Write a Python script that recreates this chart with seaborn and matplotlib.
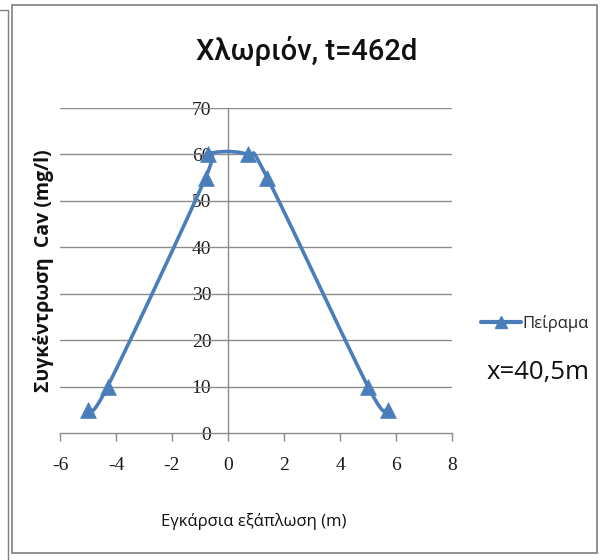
import numpy as np
import pandas as pd
import matplotlib
matplotlib.use("Agg")
import matplotlib.pyplot as plt
from matplotlib.lines import Line2D
from matplotlib.patches import Rectangle
import seaborn as sns

# Transverse position (m) and measured average chloride concentration (mg/l)
distance = [-5.0, -4.3, -0.8, -0.7, 0.7, 1.4, 5.0, 5.7]
concentration = [5, 10, 55, 60, 60, 55, 10, 5]
series_name = "Πείραμα"
x_ticks = [-6, -4, -2, 0, 2, 4, 6, 8]
y_ticks = [0, 10, 20, 30, 40, 50, 60, 70]

title = "Χλωριόν, t=462d"
x_label = "Εγκάρσια εξάπλωση (m)"
y_label = "Συγκέντρωση  Cav (mg/l)"
note = "x=40,5m"

df = pd.DataFrame({"x": distance, "c": concentration})

sns.set_theme(style="white")
plt.rcParams["font.family"] = ["Open Sans", "DejaVu Sans"]

BLUE = "#4a7ebb"
GRID = "#8c8c8c"

fig = plt.figure(figsize=(6.03, 5.60), dpi=100)
ax = fig.add_axes([60 / 603, 1 - 433 / 560, 392 / 603, 325 / 560])
ax.set_xlim(-6, 8)
ax.set_ylim(0, 70)


def smooth_curve(ax, xs, ys, n=40):
    """Bezier smoothing (Catmull-Rom style) computed in display space."""
    pts = ax.transData.transform(np.column_stack([xs, ys]))
    out = []
    m = len(pts)
    t = np.linspace(0, 1, n)[:, None]
    for i in range(m - 1):
        p0 = pts[max(i - 1, 0)]
        p1 = pts[i]
        p2 = pts[i + 1]
        p3 = pts[min(i + 2, m - 1)]
        c1 = p1 + (p2 - p0) / 6
        c2 = p2 - (p3 - p1) / 6
        seg = ((1 - t) ** 3) * p1 + 3 * ((1 - t) ** 2) * t * c1 \
            + 3 * (1 - t) * t ** 2 * c2 + t ** 3 * p2
        out.append(seg if i == 0 else seg[1:])
    curve = np.vstack(out)
    data = ax.transData.inverted().transform(curve)
    return data[:, 0], data[:, 1]


# gridlines
for yv in y_ticks[1:]:
    ax.axhline(yv, color=GRID, lw=1.0, zorder=1)

sx, sy = smooth_curve(ax, df["x"].to_numpy(), df["c"].to_numpy())
ax.plot(sx, sy, color=BLUE, lw=2.6, zorder=3, solid_capstyle="round")
sns.scatterplot(data=df, x="x", y="c", marker="^", s=130, color=BLUE,
                edgecolor=BLUE, linewidth=0.5, zorder=4, ax=ax, legend=False)

# axes lines crossing at the origin
for side in ["top", "right"]:
    ax.spines[side].set_visible(False)
ax.spines["left"].set_position(("data", 0))
ax.spines["left"].set_color(GRID)
ax.spines["bottom"].set_color(GRID)
ax.spines["left"].set_linewidth(1.0)
ax.spines["bottom"].set_linewidth(1.0)

ax.set_xticks(x_ticks)
ax.set_yticks(y_ticks)
ax.set_xticklabels([str(v) for v in x_ticks])
ax.set_yticklabels([str(v) for v in y_ticks])
for lab in ax.get_xticklabels() + ax.get_yticklabels():
    lab.set_fontfamily(["Liberation Serif", "DejaVu Serif"])
    lab.set_fontsize(14)
    lab.set_color("#1a1a1a")
ax.tick_params(axis="x", direction="out", length=6, width=1, color=GRID, pad=11, bottom=True)
ax.tick_params(axis="y", length=0, pad=12, left=True)
ax.set_xlabel("")
ax.set_ylabel("")
ax.patch.set_alpha(0)

fig.text(307 / 603, 1 - 51 / 560, title, ha="center", va="center",
         fontsize=21, fontweight="medium", color="#111111", family=["Roboto", "DejaVu Sans"])
fig.text(254 / 603, 1 - 521 / 560, x_label, ha="center", va="center",
         fontsize=12, color="#111111", family=["Open Sans", "DejaVu Sans"])
fig.text(44 / 603, 1 - 271 / 560, y_label, ha="center", va="center", rotation=90,
         fontsize=14, fontweight="bold", color="#111111", family=["Open Sans", "DejaVu Sans"])
fig.text(487 / 603, 1 - 373 / 560, note, ha="left", va="center",
         fontsize=18.5, color="#111111", family=["Open Sans", "DejaVu Sans"])

handle = Line2D([], [], color=BLUE, lw=3, marker="^", markersize=9,
                markerfacecolor=BLUE, markeredgecolor=BLUE)
fig.legend([handle], [series_name], loc="center left",
           bbox_to_anchor=(481 / 603, 1 - 323 / 560), frameon=False,
           handlelength=2.4, handletextpad=0.1, borderpad=0, borderaxespad=0,
           prop={"family": ["Open Sans", "DejaVu Sans"], "size": 12})

# chart frame
fig.patches.append(Rectangle((12 / 603, 1 - 553 / 560), 585 / 603, 548 / 560,
                             transform=fig.transFigure, fill=False,
                             edgecolor="#7f7f7f", lw=1.2))
fig.lines.append(Line2D([8 / 603, 8 / 603], [1 - 10 / 560, 0], transform=fig.transFigure,
                        color="#7f7f7f", lw=1.0))
fig.lines.append(Line2D([0, 8 / 603], [1 - 10 / 560, 1 - 10 / 560], transform=fig.transFigure,
                        color="#7f7f7f", lw=1.0))

fig.savefig("out.png", dpi=100)
